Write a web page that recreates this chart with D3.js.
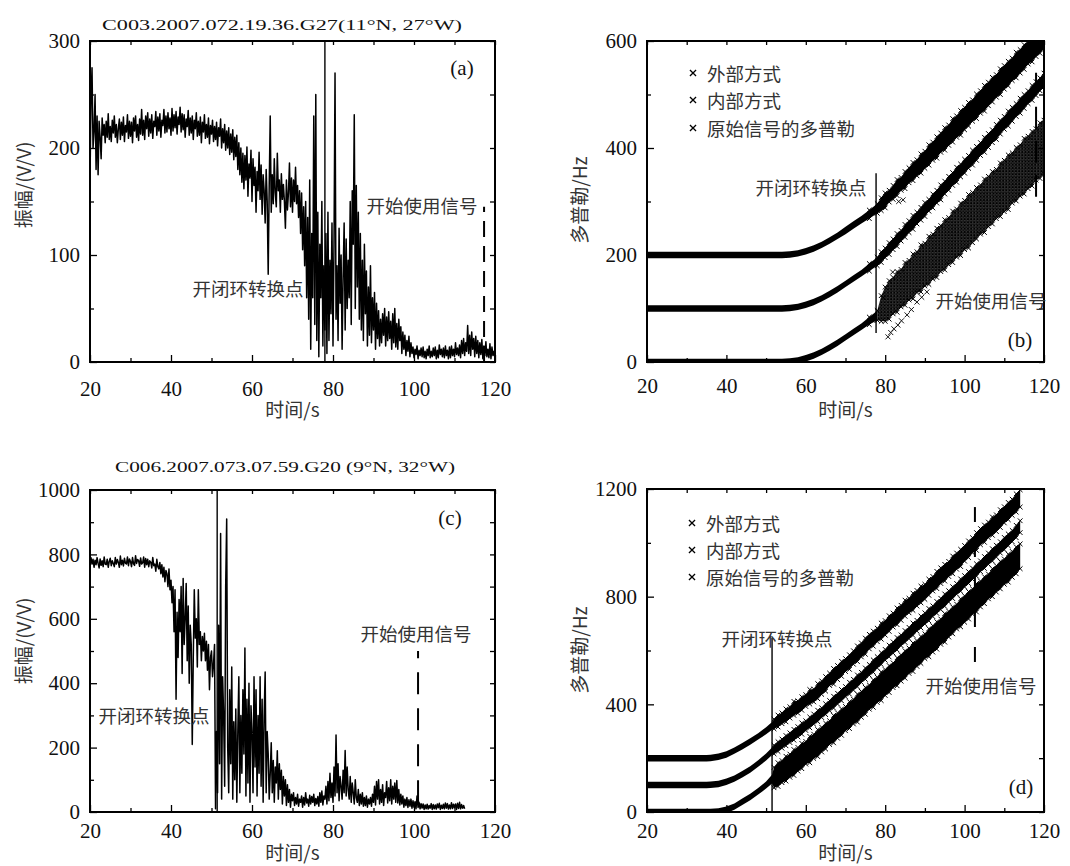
<!DOCTYPE html>
<html>
<head>
<meta charset="utf-8">
<script src="https://cdn.jsdelivr.net/npm/d3@7"></script>
<style>
  body { margin: 0; background: #fff; }
  .num { font-family: "Liberation Serif", serif; fill: #111; }
  .cjk { font-family: "Noto Sans CJK SC", sans-serif; fill: #333; }
</style>
</head>
<body>
<svg id="chart" width="1070" height="866"></svg>
<script>
// amplitude traces, one sample every 0.25 s starting at 20 s
const ampStart = 20;
const ampStep = 0.25;
const ampA = [
  170,245,275,200, 215,250,180,230, 175,225,210,190, 228,212,222,205, 225,210,232,208,
  220,206,226,214, 230,210,222,205, 218,227,208,224, 212,229,206,221, 215,231,209,225,
  211,224,205,228, 216,230,210,222, 207,227,213,236, 212,226,208,230, 218,233,211,227,
  214,231,209,225, 220,234,212,229, 216,232,210,226, 221,236,214,230, 215,233,218,228,
  212,237,216,231, 219,234,213,229, 222,238,215,232, 217,231,210,227, 220,235,212,228,
  214,230,208,226, 218,233,211,225, 212,229,205,224, 215,231,209,222, 210,228,204,221,
  213,226,206,220, 208,224,202,219, 211,227,200,218, 205,222,198,216, 200,219,194,213,
  196,217,189,210, 192,212,180,205, 175,200,168,195, 162,193,170,201, 155,185,172,198,
  150,190,165,182, 140,178,160,196, 152,184,138,175, 160,130,180,150, 82,165,230,140,
  175,148,190,158, 145,195,160,170, 140,176,152,166, 150,125,170,142, 158,186,145,172,
  140,170,150,182, 148,165,135,160, 120,158,105,145, 90,150,60,135, 40,170,12,120,
  60,230,35,250, 20,140,5,110, 60,150,15,90, 30,120,8,140, 20,95,45,130,
  15,110,270,40, 90,20,125,55, 100,12,80,130, 30,115,50,95, 60,150,35,160,
  110,231,50,165, 70,140,40,120, 30,95,20,110, 45,85,15,70, 25,90,18,60,
  30,65,12,55, 22,48,15,40, 18,45,25,50, 15,42,20,47, 22,38,12,45,
  18,50,14,36, 12,40,20,33, 8,28,12,25, 6,20,10,24, 5,18,8,14,
  4,12,7,15, 3,11,6,13, 5,14,4,10, 3,12,6,15, 4,10,5,13,
  6,14,3,11, 4,16,7,12, 5,13,4,15, 6,11,3,14, 4,15,6,12,
  5,18,7,13, 6,16,4,20, 8,22,6,18, 10,34,8,25, 6,28,12,22,
  5,24,8,20, 4,18,7,21, 3,15,6,19, 5,12,4,17, 3,14,6,10,
  4
];
const ampC = [
  765,790,770,785, 760,782,768,790, 772,758,786,766, 780,762,792,770, 768,785,760,778,
  788,765,780,772, 762,790,770,784, 775,760,795,768, 782,764,788,773, 770,792,765,786,
  778,762,790,771, 766,796,772,784, 781,763,789,770, 774,792,760,787, 768,785,762,780,
  776,758,790,765, 770,748,785,762, 755,775,740,768, 730,760,715,750, 740,700,755,690,
  720,650,700,560, 690,350,620,480, 660,560,700,430, 725,520,600,710, 470,640,400,580,
  520,210,480,690, 540,600,450,690, 520,560,470,545, 500,555,470,530, 440,520,380,480,
  500,420,460,520, 10,250,60,580, 150,865,40,420, 300,80,700,910, 200,60,380,150,
  450,40,280,100, 320,30,250,420, 60,300,120,380, 180,509,50,350, 90,400,30,330,
  250,60,420,140, 380,50,300,120, 420,80,350,30, 300,435,60,250, 180,40,120,215,
  60,160,30,140, 90,190,40,150, 70,130,25,110, 50,100,20,85, 30,70,15,55,
  35,60,20,45, 25,55,18,40, 30,50,15,45, 22,60,28,40, 18,52,25,48,
  30,55,20,42, 25,48,18,60, 30,65,22,50, 40,80,25,95, 35,120,45,90,
  30,140,50,239, 60,150,35,110, 80,40,130,60, 191,50,140,70, 40,110,30,90,
  60,25,100,45, 30,70,20,55, 25,60,18,45, 20,50,15,40, 25,45,18,55,
  30,80,22,95, 40,100,25,70, 30,85,20,60, 45,95,28,75, 35,100,25,80,
  40,90,30,98, 28,70,22,55, 25,50,15,40, 20,45,14,38, 18,40,12,35,
  15,32,10,50, 14,30,10,26, 12,25,8,22, 10,24,9,20, 12,26,8,23,
  10,22,9,25, 13,27,8,21, 11,24,10,28, 12,26,9,22, 10,29,11,24,
  13,25,8,27, 11,30,10,23, 12,20,10
];

// Doppler bands, panel (b): time, band centre and half spread (Hz)
const timeB = [20,30,40,50,54,56,58,60,62,64,66,68,70,72,74,76,78,
  79,80,81,82,83,84,85,86,87,88,89,90,91,92,93,94,95,96,97,98,99,100,
  101,102,103,104,105,106,107,108,109,110,111,112,113,114,115,116,117,118,119,120];
const extCenterB = [200,200,200,200,200,201,203,207,212,219,227,236,246,256,266,276,287,
  295,302,310,317,326,333,340,349,356,363,371,378,387,394,401,410,417,424,433,440,447,455,
  463,470,478,486,493,501,509,516,524,532,539,547,555,562,570,578,585,593,600,608];
const extSpreadB = [6,6,6,6,6,6,6,6,6,6,6,6,7,7,7,8,9,
  12,14,11,13,15,12,16,14,17,15,18,16,19,17,20,18,21,19,22,20,23,21,
  22,20,23,21,24,22,23,21,24,22,23,21,24,22,23,21,24,22,23,22];
const intCenterB = [100,100,100,100,100,101,103,107,112,119,127,136,146,156,166,177,188,
  196,204,212,220,228,236,245,253,261,269,277,285,293,301,309,317,326,334,342,350,358,366,
  374,382,390,398,406,414,422,430,439,447,455,463,471,479,487,495,503,511,519,527];
const intSpreadB = [6,6,6,6,6,6,6,6,6,6,6,6,6,6,6,7,8,
  10,9,11,10,12,10,12,11,13,11,12,13,11,13,12,14,12,13,12,14,12,13,
  12,14,13,12,14,13,12,14,13,12,14,13,12,14,13,12,14,13,12,13];
const rawCenterB = [0,0,0,0,0,1,3,7,12,19,27,36,46,56,66,77,87,
  100,108,116,124,131,138,146,153,160,168,175,182,190,197,204,212,219,226,234,241,248,256,
  263,270,278,285,292,300,307,314,322,329,336,344,351,358,366,373,380,388,395,402];
const rawSpreadB = [6,6,6,6,6,6,6,6,6,6,6,6,6,6,6,7,9,
  24,32,36,34,38,35,40,37,42,38,44,40,45,42,46,43,47,44,48,45,49,46,
  50,47,48,46,50,47,49,46,50,48,51,47,50,48,52,49,51,48,52,50];
const strayTimeB = [80.7,81.4,82.2,83.2,84.1,85.5,86.6,88.0,89.2,90.5,79.6,81.9,83.4,84.5];
const strayValueB = [47,55,62,69,77,88,98,112,121,131,120,168,300,303];

// Doppler bands, panel (d)
const timeD = [20,25,30,35,36,38,40,42,44,46,48,50,51.5,
  52,53,54,55,56,57,58,59,60,61,62,63,64,65,66,67,68,69,70,71,72,73,74,75,76,77,78,79,80,81,
  82,83,84,85,86,87,88,89,90,91,92,93,94,95,96,97,98,99,100,101,102,103,104,105,106,107,108,
  109,110,111,112,113,114];
const extCenterD = [200,200,200,200,201,205,214,228,244,262,281,302,320,
  327,338,348,359,370,385,390,403,414,428, 433,449,462,476,493,504,518,532,546,557,
  574,588,602,616,633,644,658,672,684,700, 713,727,740,757,767,781,794,808,818,835,
  848,862,878,889,903,918,932,944,961,976, 991,1005,1023,1034,1048,1062,1073,1090,1104,1118,
  1132,1148,1165];
const extSpreadD = [12,12,12,12,12,12,12,12,12,12,12,13,14,
  18,22,20,24,21,26,23,25,22,27, 24,28,25,27,23,29,26,28,24,27,
  25,29,26,30,27,28,25,30,27,29, 26,31,28,30,27,32,29,31,28,30,
  27,32,29,31,28,33,30,32,29,31, 28,33,30,32,29,34,31,33,30,32,
  30,34,32];
const intCenterD = [100,100,100,100,101,104,112,124,140,158,180,204,226,
  232,243,254,265,276,287,298,310,321,333, 345,357,369,382,395,408,421,434,447,460,
  473,487,500,514,528,542,556,570,584,598, 611,625,638,652,665,679,692,706,719,733,
  746,760,773,787,801,815,829,843,857,871, 885,899,913,927,941,955,969,983,997,1011,
  1025,1042,1060];
const intSpreadD = [12,12,12,12,12,12,12,12,12,12,12,13,14,
  16,18,17,19,18,20,19,21,18,20, 19,21,18,20,19,22,20,21,19,22,
  20,22,19,21,20,23,21,22,20,22, 21,23,20,22,21,23,20,22,21,23,
  20,22,21,23,21,22,20,23,21,22, 21,23,20,22,21,23,22,21,23,22,
  21,23,22];
const rawCenterD = [0,0,0,0,0,2,8,20,38,56,77,100,122,
  128,139,150,161,172,184,196,208,220,232, 244,256,269,282,295,308,321,334,347,360,
  373,386,400,413,427,440,454,467,481,494, 508,521,535,548,562,575,589,602,616,629,
  643,656,670,684,698,712,726,740,754,768, 782,796,810,824,838,852,866,880,893,906,
  920,935,950];
const rawSpreadD = [12,12,12,12,12,12,12,12,12,12,12,13,16,
  38,44,41,46,43,48,44,47,42,49, 45,50,46,48,44,51,47,49,45,50,
  46,52,48,50,45,51,47,53,48,50, 46,52,49,51,47,53,48,50,46,52,
  49,51,47,53,48,50,46,52,49,51, 47,53,48,50,46,52,49,51,47,52,
  48,50,46];

const legendNames = ["外部方式", "内部方式", "原始信号的多普勒"];
const xMajor = [20, 40, 60, 80, 100, 120];
const xMinor = [30, 50, 70, 90, 110];

const svg = d3.select("#chart");
const defs = svg.append("defs");

// cloud texture for the scattered raw Doppler points
const cloud = defs.append("pattern")
  .attr("id", "cloud")
  .attr("patternUnits", "userSpaceOnUse")
  .attr("width", 3.2)
  .attr("height", 3.2);
cloud.append("rect").attr("width", 3.2).attr("height", 3.2).attr("fill", "#555");
cloud.append("path")
  .attr("d", "M0.2,0.2L2.8,2.8M2.8,0.2L0.2,2.8")
  .attr("stroke", "#000")
  .attr("stroke-width", 1.2);

function makePanel(cfg) {
  const g = svg.append("g");
  const x = d3.scaleLinear().domain([20, 120]).range([cfg.left, cfg.right]);
  const y = d3.scaleLinear().domain([0, cfg.yMax]).range([cfg.bottom, cfg.top]);

  defs.append("clipPath").attr("id", "clip-" + cfg.id)
    .append("rect")
    .attr("x", cfg.left).attr("y", cfg.top)
    .attr("width", cfg.right - cfg.left).attr("height", cfg.bottom - cfg.top);

  const plot = g.append("g").attr("clip-path", `url(#clip-${cfg.id})`);

  const axes = g.append("g").attr("class", "num");
  const tick = (sel) => {
    sel.select(".domain").remove();
    sel.selectAll(".tick line").attr("stroke", "#000").attr("stroke-width", 1.3);
  };
  axes.append("g").attr("transform", `translate(0,${cfg.bottom})`)
    .call(d3.axisBottom(x).tickValues(xMajor).tickSize(-7).tickPadding(cfg.xPad).tickFormat(d3.format("d")))
    .call(tick)
    .selectAll("text").attr("font-size", 21).attr("font-family", "Liberation Serif").attr("fill", "#111");
  axes.append("g").attr("transform", `translate(0,${cfg.bottom})`)
    .call(d3.axisBottom(x).tickValues(xMinor).tickSize(-4).tickFormat(""))
    .call(tick);
  axes.append("g").attr("transform", `translate(0,${cfg.top})`)
    .call(d3.axisTop(x).tickValues(xMajor.concat(xMinor)).tickSize(-4).tickFormat(""))
    .call(tick);
  axes.append("g").attr("transform", `translate(${cfg.left},0)`)
    .call(d3.axisLeft(y).tickValues(cfg.yMajor).tickSize(-7).tickPadding(10).tickFormat(d3.format("d")))
    .call(tick)
    .selectAll("text").attr("font-size", 21).attr("font-family", "Liberation Serif").attr("fill", "#111");
  axes.append("g").attr("transform", `translate(${cfg.left},0)`)
    .call(d3.axisLeft(y).tickValues(cfg.yMinor).tickSize(-4).tickFormat(""))
    .call(tick);
  axes.append("g").attr("transform", `translate(${cfg.right},0)`)
    .call(d3.axisRight(y).tickValues(cfg.yMajor.concat(cfg.yMinor)).tickSize(-5).tickFormat(""))
    .call(tick);

  g.append("rect")
    .attr("x", cfg.left).attr("y", cfg.top)
    .attr("width", cfg.right - cfg.left).attr("height", cfg.bottom - cfg.top)
    .attr("fill", "none").attr("stroke", "#000").attr("stroke-width", 2);

  g.append("text").attr("class", "cjk")
    .attr("x", (cfg.left + cfg.right) / 2).attr("y", cfg.xLabelY)
    .attr("text-anchor", "middle").attr("font-size", 19)
    .text("时间/s");
  g.append("text").attr("class", "cjk")
    .attr("transform", `translate(${cfg.yLabelX},${cfg.yLabelY}) rotate(-90)`)
    .attr("text-anchor", "middle").attr("dominant-baseline", "central").attr("font-size", 19)
    .text(cfg.yLabel);

  g.append("text").attr("class", "num")
    .attr("x", cfg.tagX).attr("y", cfg.tagY)
    .attr("text-anchor", "middle").attr("dominant-baseline", "central").attr("font-size", 21)
    .text(`(${cfg.id})`);

  return { g, plot, x, y };
}

function markerLines(p, cfg) {
  p.g.append("line")
    .attr("x1", p.x(cfg.switchT)).attr("x2", p.x(cfg.switchT))
    .attr("y1", p.y(cfg.switchRange[0])).attr("y2", p.y(cfg.switchRange[1]))
    .attr("stroke", "#000").attr("stroke-width", 1.4);
  p.g.append("line")
    .attr("x1", p.x(cfg.startT)).attr("x2", p.x(cfg.startT))
    .attr("y1", p.y(cfg.startRange[0])).attr("y2", p.y(cfg.startRange[1]))
    .attr("stroke", "#000").attr("stroke-width", 2).attr("stroke-dasharray", cfg.dash);
  p.g.append("text").attr("class", "cjk")
    .attr("x", cfg.switchLabel[0]).attr("y", cfg.switchLabel[1])
    .attr("text-anchor", "middle").attr("dominant-baseline", "central").attr("font-size", 18.5)
    .text("开闭环转换点");
  p.g.append("text").attr("class", "cjk")
    .attr("x", cfg.startLabel[0]).attr("y", cfg.startLabel[1])
    .attr("text-anchor", "middle").attr("dominant-baseline", "central").attr("font-size", 18.5)
    .text("开始使用信号");
}

function title(text, cx, y, width) {
  svg.append("text").attr("class", "num")
    .attr("x", cx).attr("y", y)
    .attr("text-anchor", "middle").attr("font-size", 15.5)
    .attr("textLength", width).attr("lengthAdjust", "spacingAndGlyphs")
    .text(text);
}

function amplitude(p, values) {
  const line = d3.line()
    .x((d, i) => p.x(ampStart + i * ampStep))
    .y(d => p.y(d));
  p.plot.append("path")
    .datum(values)
    .attr("d", line)
    .attr("fill", "none")
    .attr("stroke", "#000")
    .attr("stroke-width", 1.5)
    .attr("stroke-linejoin", "round");
}

// a band of x markers: filled core, with crosses on the ragged edges once it turns noisy
function band(p, times, centers, spreads, fill, fromT, toT, roughFrom) {
  const rows = times.map((t, i) => ({ t, c: centers[i], w: spreads[i] }))
    .filter(d => d.t >= fromT && d.t <= toT);
  const area = d3.area()
    .x(d => p.x(d.t))
    .y0(d => p.y(d.c - d.w))
    .y1(d => p.y(d.c + d.w));
  p.plot.append("path")
    .datum(rows)
    .attr("d", area)
    .attr("fill", fill);
  const edges = rows.filter(d => d.t >= roughFrom)
    .flatMap(d => [[d.t, d.c - d.w], [d.t, d.c + d.w]]);
  p.plot.append("g").selectAll("path")
    .data(edges)
    .join("path")
    .attr("transform", d => `translate(${p.x(d[0])},${p.y(d[1])})`)
    .attr("d", d3.symbol(d3.symbolTimes, 16)())
    .attr("stroke", "#000").attr("stroke-width", 1).attr("fill", "none");
}

function legend(p, x0, ys) {
  const sym = d3.symbol(d3.symbolTimes, 26);
  legendNames.forEach((name, i) => {
    p.g.append("path")
      .attr("transform", `translate(${x0},${ys[i]})`)
      .attr("d", sym())
      .attr("stroke", "#000").attr("stroke-width", 1.3).attr("fill", "none");
    p.g.append("text").attr("class", "cjk")
      .attr("x", x0 + 14).attr("y", ys[i])
      .attr("dominant-baseline", "central").attr("font-size", 18.5)
      .text(name);
  });
}

// ---- panel (a)
const cfgA = {
  id: "a", left: 90, right: 495, top: 41, bottom: 362, yMax: 300,
  yMajor: [0, 100, 200, 300], yMinor: [50, 150, 250], xPad: 19,
  xLabelY: 417, yLabel: "振幅/(V/V)", yLabelX: 22, yLabelY: 185, tagX: 462, tagY: 68,
  switchT: 78, switchRange: [0, 300], startT: 117.3, startRange: [0, 145], dash: "16,9",
  switchLabel: [248, 288], startLabel: [422, 205]
};
const pA = makePanel(cfgA);
amplitude(pA, ampA);
markerLines(pA, cfgA);
title("C003.2007.072.19.36.G27(11°N, 27°W)", 282, 30, 360);

// ---- panel (b)
const cfgB = {
  id: "b", left: 647, right: 1044, top: 41, bottom: 362, yMax: 600,
  yMajor: [0, 200, 400, 600], yMinor: [100, 300, 500], xPad: 16,
  xLabelY: 417, yLabel: "多普勒/Hz", yLabelX: 578, yLabelY: 200, tagX: 1020, tagY: 340,
  switchT: 77.7, switchRange: [54, 353], startT: 118, startRange: [309, 541], dash: "22,12",
  switchLabel: [811, 187], startLabel: [991, 300]
};
const pB = makePanel(cfgB);
band(pB, timeB, extCenterB, extSpreadB, "#000", 20, 120, 76);
band(pB, timeB, intCenterB, intSpreadB, "#000", 20, 120, 76);
band(pB, timeB, rawCenterB, rawSpreadB, "#000", 20, 78, 76);
band(pB, timeB, rawCenterB, rawSpreadB, "url(#cloud)", 78, 120, 78);
pB.plot.selectAll(".stray")
  .data(strayTimeB.map((t, i) => [t, strayValueB[i]]))
  .join("path")
  .attr("transform", d => `translate(${pB.x(d[0])},${pB.y(d[1])})`)
  .attr("d", d3.symbol(d3.symbolTimes, 18)())
  .attr("stroke", "#000").attr("stroke-width", 0.9).attr("fill", "none");
markerLines(pB, cfgB);
legend(pB, 693, [73, 100, 128]);

// ---- panel (c)
const cfgC = {
  id: "c", left: 90, right: 495, top: 490, bottom: 812, yMax: 1000,
  yMajor: [0, 200, 400, 600, 800, 1000], yMinor: [100, 300, 500, 700, 900], xPad: 11,
  xLabelY: 860, yLabel: "振幅/(V/V)", yLabelX: 22, yLabelY: 641, tagX: 450, tagY: 518,
  switchT: 51.4, switchRange: [0, 1000], startT: 101, startRange: [30, 500], dash: "22,14",
  switchLabel: [154, 715], startLabel: [416, 633]
};
const pC = makePanel(cfgC);
amplitude(pC, ampC);
markerLines(pC, cfgC);
title("C006.2007.073.07.59.G20 (9°N, 32°W)", 285, 472, 340);

// ---- panel (d)
const cfgD = {
  id: "d", left: 647, right: 1044, top: 489, bottom: 812, yMax: 1200,
  yMajor: [0, 400, 800, 1200], yMinor: [200, 600, 1000], xPad: 11,
  xLabelY: 860, yLabel: "多普勒/Hz", yLabelX: 578, yLabelY: 650, tagX: 1021, tagY: 787,
  switchT: 51.5, switchRange: [0, 646], startT: 102.6, startRange: [557, 1148], dash: "15,20",
  switchLabel: [777, 638], startLabel: [981, 685]
};
const pD = makePanel(cfgD);
band(pD, timeD, extCenterD, extSpreadD, "#000", 20, 120, 52);
band(pD, timeD, intCenterD, intSpreadD, "#000", 20, 120, 52);
band(pD, timeD, rawCenterD, rawSpreadD, "#000", 20, 120, 52);
markerLines(pD, cfgD);
legend(pD, 692, [523, 550, 577]);
</script>
</body>
</html>
